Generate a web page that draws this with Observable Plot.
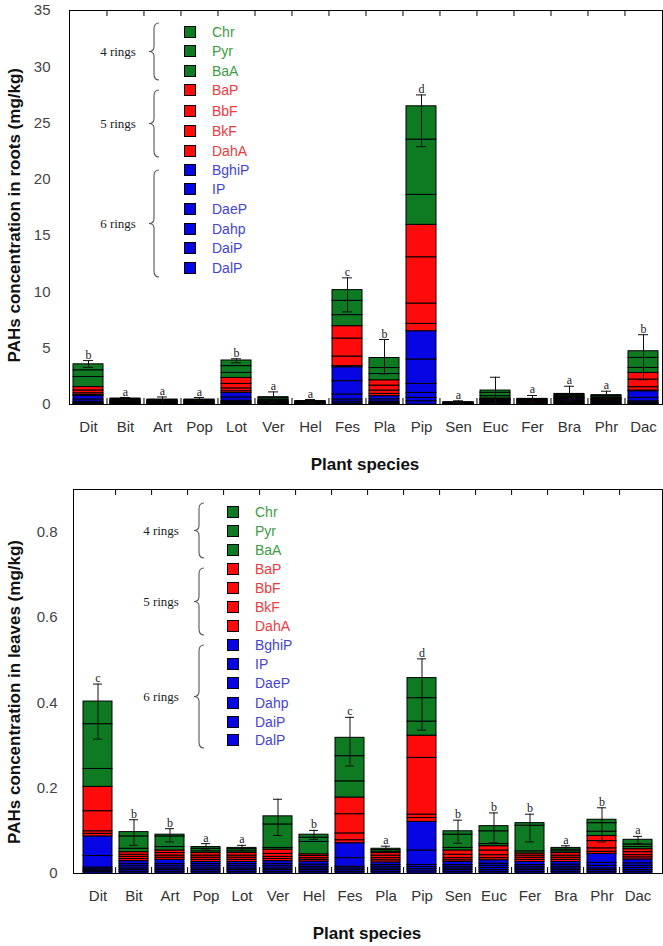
<!DOCTYPE html>
<html>
<head>
<meta charset="utf-8">
<script src="https://cdn.jsdelivr.net/npm/d3@7"></script>
<script src="https://cdn.jsdelivr.net/npm/@observablehq/plot@0.6"></script>
<style>
  html, body { margin: 0; padding: 0; background: #fff; }
  #wrap { position: relative; width: 663px; height: 946px; font-family: "Liberation Sans", Arial, sans-serif; }
  #wrap > div.panel { position: absolute; left: 0; }
  #overlay { position: absolute; left: 0; top: 0; pointer-events: none; }
</style>
</head>
<body>
<div id="wrap">
  <div class="panel" id="top" style="top:0px"></div>
  <div class="panel" id="bottom" style="top:478px"></div>
  <svg id="overlay" width="663" height="946"></svg>
</div>
<script>
// ---------------- DATA ----------------
const species = ["Dit","Bit","Art","Pop","Lot","Ver","Hel","Fes","Pla","Pip","Sen","Euc","Fer","Bra","Phr","Dac"];
const components = ["Chr","Pyr","BaA","BaP","BbF","BkF","DahA","BghiP","IP","DaeP","Dahp","DaiP","DalP"];
const rings = [4,4,4,5,5,5,5,6,6,6,6,6,6];
const ringLabels = ["4 rings","5 rings","6 rings"];

// Roots (mg/kg), species order as above
const rootsChr   = [0.53,0.05,0.04,0.04,0.50,0.10,0.02,0.95,0.89,2.96,0.02,0.20,0.03,0.08,0.08,0.59];
const rootsPyr   = [0.60,0.08,0.06,0.05,0.60,0.15,0.03,1.27,0.53,4.91,0.02,0.30,0.05,0.12,0.12,0.89];
const rootsBaA   = [0.89,0.07,0.05,0.05,0.45,0.10,0.03,0.98,0.56,2.66,0.02,0.21,0.04,0.10,0.10,0.44];
const rootsBaP   = [0.30,0.04,0.03,0.03,0.53,0.04,0.02,1.10,0.47,2.88,0.01,0.06,0.04,0.06,0.05,0.59];
const rootsBbF   = [0.25,0.04,0.03,0.03,0.40,0.03,0.02,1.60,0.44,4.11,0.01,0.05,0.03,0.06,0.05,0.68];
const rootsBkF   = [0.15,0.03,0.03,0.02,0.25,0.03,0.02,0.85,0.30,1.81,0.01,0.04,0.03,0.05,0.05,0.30];
const rootsDahA  = [0.10,0.02,0.02,0.02,0.15,0.02,0.02,0.10,0.20,0.65,0.01,0.03,0.02,0.03,0.03,0.06];
const rootsBghiP = [0.30,0.06,0.05,0.06,0.40,0.05,0.03,1.24,0.28,2.51,0.03,0.10,0.07,0.13,0.10,0.59];
const rootsIP    = [0.20,0.05,0.04,0.05,0.30,0.04,0.03,1.18,0.20,2.17,0.02,0.08,0.06,0.10,0.08,0.30];
const rootsDaeP  = [0.10,0.03,0.03,0.03,0.12,0.03,0.02,0.44,0.10,0.80,0.02,0.06,0.04,0.07,0.06,0.12];
const rootsDahp  = [0.06,0.02,0.02,0.02,0.08,0.02,0.02,0.20,0.06,0.44,0.01,0.04,0.03,0.05,0.04,0.07];
const rootsDaiP  = [0.05,0.02,0.02,0.02,0.07,0.02,0.02,0.15,0.05,0.30,0.01,0.04,0.03,0.05,0.04,0.05];
const rootsDalP  = [0.04,0.02,0.02,0.02,0.06,0.02,0.02,0.10,0.05,0.29,0.01,0.03,0.03,0.04,0.03,0.05];
const rootsErrHi = [3.90,0.62,0.67,0.62,4.06,1.12,0.44,11.25,5.77,27.5,0.33,2.42,0.80,1.62,1.18,6.20];
const rootsErrLo = [3.30,0.45,0.00,0.30,3.70,0.20,0.16,8.23,2.72,22.9,0.07,0.10,0.20,0.30,0.50,2.20];
const rootsLetters = ["b","a","a","a","b","a","a","c","b","d","a","","a","a","a","b"];

// Leaves (mg/kg)
const leavesChr   = [0.053,0.010,0.004,0.004,0.003,0.019,0.007,0.043,0.003,0.047,0.008,0.012,0.006,0.004,0.008,0.011];
const leavesPyr   = [0.105,0.029,0.025,0.006,0.005,0.055,0.010,0.059,0.004,0.055,0.031,0.030,0.060,0.004,0.020,0.006];
const leavesBaA   = [0.042,0.008,0.008,0.004,0.004,0.004,0.029,0.038,0.003,0.033,0.006,0.005,0.005,0.004,0.010,0.005];
const leavesBaP   = [0.057,0.006,0.006,0.006,0.006,0.010,0.004,0.039,0.006,0.052,0.010,0.010,0.005,0.006,0.012,0.007];
const leavesBbF   = [0.047,0.005,0.006,0.005,0.005,0.007,0.005,0.045,0.006,0.133,0.008,0.011,0.005,0.005,0.017,0.007];
const leavesBkF   = [0.006,0.005,0.005,0.005,0.005,0.005,0.004,0.016,0.005,0.008,0.005,0.007,0.005,0.005,0.008,0.005];
const leavesDahA  = [0.006,0.005,0.005,0.005,0.005,0.005,0.004,0.007,0.005,0.009,0.004,0.005,0.005,0.005,0.005,0.005];
const leavesBghiP = [0.046,0.007,0.010,0.005,0.005,0.007,0.007,0.035,0.006,0.067,0.007,0.008,0.007,0.006,0.021,0.009];
const leavesIP    = [0.027,0.005,0.005,0.005,0.005,0.005,0.005,0.020,0.004,0.034,0.004,0.005,0.004,0.005,0.007,0.006];
const leavesDaeP  = [0.004,0.005,0.005,0.005,0.005,0.005,0.004,0.004,0.004,0.005,0.004,0.005,0.004,0.004,0.006,0.005];
const leavesDahp  = [0.003,0.004,0.004,0.004,0.004,0.004,0.004,0.004,0.004,0.005,0.004,0.005,0.004,0.004,0.004,0.005];
const leavesDaiP  = [0.003,0.004,0.004,0.004,0.004,0.004,0.004,0.004,0.004,0.005,0.004,0.004,0.004,0.004,0.004,0.004];
const leavesDalP  = [0.004,0.004,0.004,0.004,0.004,0.004,0.004,0.004,0.004,0.005,0.004,0.004,0.004,0.004,0.004,0.004];
const leavesErrHi = [0.444,0.126,0.105,0.070,0.066,0.174,0.101,0.366,0.064,0.503,0.125,0.142,0.139,0.065,0.154,0.087];
const leavesErrLo = [0.315,0.066,0.074,0.055,0.054,0.089,0.080,0.252,0.052,0.336,0.071,0.072,0.074,0.055,0.074,0.070];
const leavesLetters = ["c","b","b","a","a","","b","c","a","d","b","b","b","a","b","a"];

const rootsTicks = [0,5,10,15,20,25,30,35];
const leavesTicks = [0,0.2,0.4,0.6,0.8];

// ---------------- STYLE ----------------
const barColor = {4: "#0e7a22", 5: "#ff0b0b", 6: "#0606e4"};
const textColor = {4: "#3d9c45", 5: "#ec3a3e", 6: "#4444d2"};

function buildTable(arrs) {
  const rows = [];
  // stack from bottom (DalP) to top (Chr)
  for (let c = components.length - 1; c >= 0; c--) {
    species.forEach((s, i) => {
      rows.push({species: s, comp: components[c], value: arrs[components[c]][i], fill: barColor[rings[c]]});
    });
  }
  return rows;
}
function errTable(hi, lo, letters) {
  return species.map((s, i) => ({species: s, hi: hi[i], lo: lo[i], letter: letters[i]}));
}

const rootsTable = buildTable({Chr: rootsChr, Pyr: rootsPyr, BaA: rootsBaA, BaP: rootsBaP, BbF: rootsBbF, BkF: rootsBkF, DahA: rootsDahA,
  BghiP: rootsBghiP, IP: rootsIP, DaeP: rootsDaeP, Dahp: rootsDahp, DaiP: rootsDaiP, DalP: rootsDalP});
const leavesTable = buildTable({Chr: leavesChr, Pyr: leavesPyr, BaA: leavesBaA, BaP: leavesBaP, BbF: leavesBbF, BkF: leavesBkF, DahA: leavesDahA,
  BghiP: leavesBghiP, IP: leavesIP, DaeP: leavesDaeP, Dahp: leavesDahp, DaiP: leavesDaiP, DalP: leavesDalP});

function panel({table, errs, yDomain, yTicks, height, mt, mb, ml, mr, tickPad}) {
  const width = 663;
  const plotH = height - mt - mb;
  const step = (width - ml - mr) / species.length;
  const bounds = species.slice(1);
  return Plot.plot({
    width, height,
    marginTop: mt, marginBottom: mb, marginLeft: ml, marginRight: mr,
    style: {fontFamily: "Liberation Sans, Arial, sans-serif", color: "#000", background: "transparent"},
    x: {domain: species, paddingInner: 0.19, paddingOuter: 0.095, label: null},
    y: {domain: yDomain, label: null},
    color: {type: "identity"},
    marks: [
      Plot.barY(table, {x: "species", y: "value", fill: "fill", stroke: "#000", strokeWidth: 1}),
      Plot.ruleX(errs, {x: "species", y1: "lo", y2: "hi", stroke: "#111", strokeWidth: 1}),
      Plot.tickY(errs, {x: "species", y: "hi", stroke: "#111", strokeWidth: 1, insetLeft: 10, insetRight: 10}),
      Plot.tickY(errs, {x: "species", y: "lo", stroke: "#111", strokeWidth: 1, insetLeft: 10, insetRight: 10}),
      Plot.text(errs, {x: "species", y: "hi", text: "letter", lineAnchor: "bottom", dy: -2,
        fontFamily: "Liberation Serif, serif", fontSize: 12, fill: "#222"}),
      Plot.tickX(bounds, {x: d => d, dx: -step / 2, insetBottom: plotH - 6, stroke: "#000"}),
      Plot.tickX(bounds, {x: d => d, dx: -step / 2, insetTop: plotH - 6, stroke: "#000"}),
      Plot.axisX({tickSize: 0, tickPadding: 17, fontSize: 15, fill: "#333", label: null}),
      Plot.axisY({ticks: yTicks, tickSize: 0, tickPadding: tickPad, fontSize: 15, fill: "#444", tickFormat: "~g", label: null}),
      Plot.frame({stroke: "#000", strokeWidth: 1})
    ]
  });
}

document.getElementById("top").appendChild(panel({
  table: rootsTable, errs: errTable(rootsErrHi, rootsErrLo, rootsLetters),
  yDomain: [0, 35], yTicks: rootsTicks, height: 478, mt: 10, mb: 74, ml: 69, mr: 1, tickPad: 19
}));
document.getElementById("bottom").appendChild(panel({
  table: leavesTable, errs: errTable(leavesErrHi, leavesErrLo, leavesLetters),
  yDomain: [0, 0.9], yTicks: leavesTicks, height: 468, mt: 11, mb: 73, ml: 73, mr: 1, tickPad: 16
}));

// ---------------- OVERLAY: titles, legends, braces ----------------
const ov = d3.select("#overlay");
function title(x, y, txt, rotate, anchor) {
  const t = ov.append("text").attr("font-family", "Liberation Sans, Arial, sans-serif")
    .attr("font-weight", "bold").attr("font-size", 17).attr("fill", "#111").text(txt);
  if (rotate) {
    t.attr("transform", `translate(${x},${y}) rotate(-90)`).attr("text-anchor", anchor).attr("dy", "0.35em");
  } else {
    t.attr("x", x).attr("y", y).attr("text-anchor", "middle").attr("dy", "0.35em");
  }
}
title(14, 68, "PAHs concentration in roots (mg/kg)", true, "end");
title(365, 464, "Plant species", false);
title(14, 540, "PAHs concentration in leaves (mg/kg)", true, "end");
title(367, 933, "Plant species", false);

function legend(sqX, txtX, ys, braceX, braceSpans, ringX) {
  components.forEach((c, i) => {
    ov.append("rect").attr("x", sqX - 5.5).attr("y", ys[i] - 5.5).attr("width", 11).attr("height", 11)
      .attr("fill", barColor[rings[i]]).attr("stroke", "#000").attr("stroke-width", 1);
    ov.append("text").attr("x", txtX).attr("y", ys[i]).attr("dy", "0.35em")
      .attr("font-family", "Liberation Sans, Arial, sans-serif").attr("font-size", 14)
      .attr("fill", textColor[rings[i]]).text(c);
  });
  braceSpans.forEach(([y1, y2], k) => {
    const x = braceX, ym = (y1 + y2) / 2;
    const p = `M${x + 5},${y1} Q${x},${y1} ${x},${y1 + 6} L${x},${ym - 5} Q${x},${ym} ${x - 5},${ym} ` +
              `Q${x},${ym} ${x},${ym + 5} L${x},${y2 - 6} Q${x},${y2} ${x + 5},${y2}`;
    ov.append("path").attr("d", p).attr("fill", "none").attr("stroke", "#555").attr("stroke-width", 1.1);
    ov.append("text").attr("x", ringX).attr("y", ym).attr("dy", "0.35em").attr("text-anchor", "middle")
      .attr("font-family", "Liberation Serif, serif").attr("font-size", 13).attr("fill", "#222").text(ringLabels[k]);
  });
}
legend(190, 212, [32,51,71,90,111,131,151,170,189,209,229,248,268], 154,
  [[23, 80], [90, 157], [170, 277]], 118);
legend(233, 255, [512,531,550,569,588,607,626,645,664,683,703,722,740], 199,
  [[503, 558], [568, 635], [645, 748]], 161);
</script>
</body>
</html>
